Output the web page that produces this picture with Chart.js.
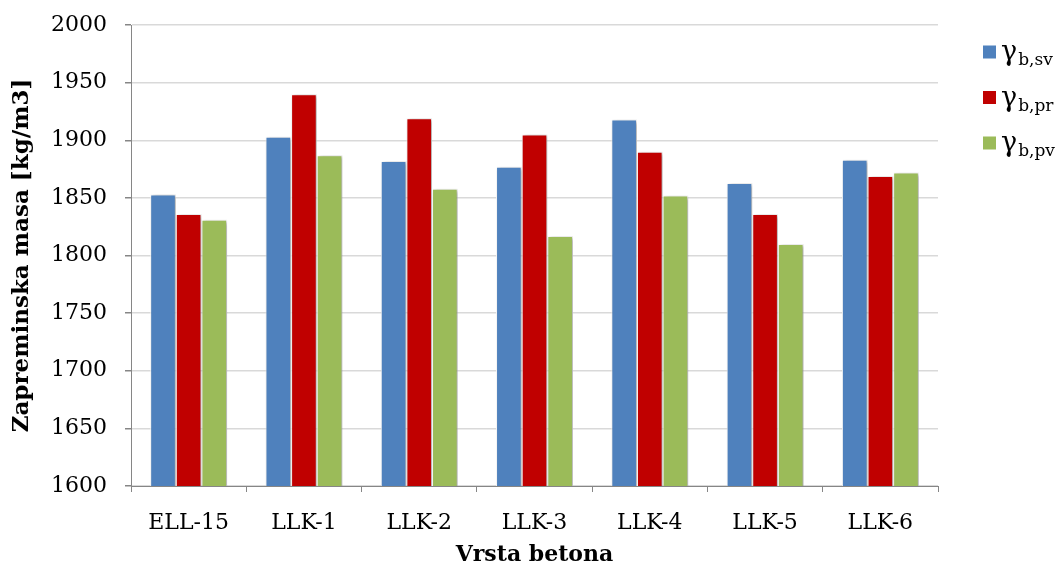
<!DOCTYPE html>
<html>
<head>
<meta charset="utf-8">
<script src="https://cdn.jsdelivr.net/npm/chart.js@4.4.1/dist/chart.umd.min.js"></script>
<style>
  html, body { margin: 0; padding: 0; background: #ffffff; }
  #wrap { width: 1056px; height: 568px; }
</style>
</head>
<body>
<div id="wrap"><canvas id="c" width="1056" height="568"></canvas></div>
<script>
const categories = ['ELL-15', 'LLK-1', 'LLK-2', 'LLK-3', 'LLK-4', 'LLK-5', 'LLK-6'];
const seriesNames = ['b,sv', 'b,pr', 'b,pv'];
const gammaSv = [1853, 1903, 1882, 1877, 1918, 1863, 1883];
const gammaPr = [1836, 1940, 1919, 1905, 1890, 1836, 1869];
const gammaPv = [1831, 1887, 1858, 1817, 1852, 1810, 1872];
const yTicks = [1600, 1650, 1700, 1750, 1800, 1850, 1900, 1950, 2000];
const yTitle = 'Zapreminska masa [kg/m3]';
const xTitle = 'Vrsta betona';

const colors = ['#4F81BD', '#C00000', '#9BBB59'];
const FONT = '"DejaVu Serif", "Liberation Serif", serif';

const shadowPlugin = {
  id: 'barShadow',
  beforeDatasetsDraw(chart) {
    const ctx = chart.ctx;
    ctx.save();
    ctx.shadowColor = 'rgba(0,0,0,0.35)';
    ctx.shadowBlur = 4;
    ctx.shadowOffsetX = 2;
    ctx.shadowOffsetY = 1;
  },
  afterDatasetsDraw(chart) {
    chart.ctx.restore();
  }
};

const legendPlugin = {
  id: 'gammaLegend',
  afterDraw(chart) {
    const ctx = chart.ctx;
    ctx.save();
    chart.data.datasets.forEach((ds, i) => {
      const cy = 52 + i * 45.5;
      ctx.fillStyle = ds.backgroundColor;
      ctx.fillRect(983, cy - 6.5, 13, 13);
      ctx.fillStyle = '#000000';
      ctx.textBaseline = 'alphabetic';
      ctx.textAlign = 'left';
      ctx.font = '27px ' + FONT;
      ctx.fillText('γ', 1001, cy + 8);
      const gw = ctx.measureText('γ').width;
      ctx.font = '17px ' + FONT;
      ctx.fillText(ds.label, 1001 + gw + 1, cy + 13);
    });
    ctx.restore();
  }
};

new Chart(document.getElementById('c'), {
  type: 'bar',
  data: {
    labels: categories,
    datasets: [
      { label: seriesNames[0], data: gammaSv, backgroundColor: colors[0] },
      { label: seriesNames[1], data: gammaPr, backgroundColor: colors[1] },
      { label: seriesNames[2], data: gammaPv, backgroundColor: colors[2] }
    ].map(d => Object.assign(d, { borderColor: '#ffffff', borderWidth: 1, categoryPercentage: 0.667, barPercentage: 1.0 }))
  },
  options: {
    responsive: false,
    animation: false,
    devicePixelRatio: 1,
    layout: { padding: { left: 0, right: 118, top: 25, bottom: 0 } },
    plugins: {
      legend: { display: false },
      tooltip: { enabled: false }
    },
    scales: {
      x: {
        grid: { drawOnChartArea: false, tickLength: 6, tickColor: '#868686' },
        border: { color: '#868686', width: 1 },
        ticks: { color: '#000000', font: { family: FONT, size: 22 }, padding: 18 },
        title: { display: true, text: xTitle, color: '#000000', font: { family: FONT, size: 22, weight: 'bold' }, padding: { top: 4, bottom: 0 } },
        afterFit(scale) { scale.height = 82; scale.paddingLeft = 0; scale.paddingRight = 0; }
      },
      y: {
        min: 1600,
        max: 2000,
        afterBuildTicks(scale) { scale.ticks = yTicks.map(v => ({ value: v })); },
        grid: { color: '#D9D9D9', lineWidth: 1.5, tickLength: 6, tickColor: '#868686' },
        border: { color: '#868686', width: 1 },
        ticks: { color: '#000000', font: { family: FONT, size: 22 }, padding: 18, callback: (v) => String(v) },
        title: { display: true, text: yTitle, color: '#000000', font: { family: FONT, size: 23, weight: 'bold' }, padding: { top: 8, bottom: 0 } },
        afterFit(scale) { scale.width = 131; scale.paddingTop = 0; scale.paddingBottom = 0; }
      }
    }
  },
  plugins: [shadowPlugin, legendPlugin]
});
</script>
</body>
</html>
